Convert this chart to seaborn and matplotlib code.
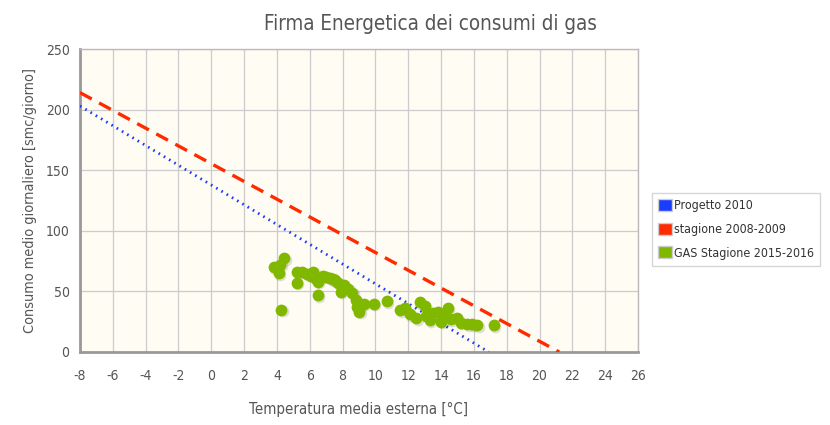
import matplotlib
matplotlib.use("Agg")
import matplotlib.pyplot as plt
import matplotlib.transforms as mtransforms
from matplotlib.patches import Patch
import seaborn as sns
import pandas as pd
import numpy as np

title = "Firma Energetica dei consumi di gas"
xlabel = "Temperatura media esterna [°C]"
ylabel = "Consumo medio giornaliero [smc/giorno]"

# Lines (endpoints)
progetto_x = [-8, 16.9]
progetto_y = [203, 0]
stagione_x = [-8, 21.2]
stagione_y = [214, 0]

# GAS Stagione 2015-2016 scatter points
gas_t = [3.8, 4.1, 4.2, 4.45, 4.25, 5.2, 5.2, 5.5, 5.85, 6.2, 6.4, 6.5, 6.5, 6.8, 7.0,
         7.25, 7.55, 7.7, 7.9, 8.1, 8.35, 8.6, 8.8, 8.9, 9.0, 9.3, 9.9, 10.7,
         11.5, 11.8, 12.1, 12.5, 12.7, 13.0, 13.1, 13.3, 13.5, 14.0, 14.1, 14.4,
         14.6, 15.0, 15.2, 15.6, 15.9, 16.2, 17.2, 6.1, 7.4, 13.8]
gas_c = [70, 65, 72, 77.5, 34.7, 66, 57, 66, 64, 66, 60, 58, 47, 63, 62,
         61, 59, 57, 49.5, 55, 52, 48.7, 43, 37, 33, 40, 40, 42,
         34.6, 36, 31, 28, 41, 38, 30, 26, 32, 25, 31, 36,
         27, 28, 24, 23, 23, 22, 22, 63, 60, 33]

legend_labels = ["Progetto 2010", "stagione 2008-2009", "GAS Stagione 2015-2016"]
colors = ["#1a3cff", "#ff2a00", "#80b800"]

sns.set_style("white")
plt.rcParams['font.family'] = ['DejaVu Sans']
plt.rcParams['font.stretch'] = 'condensed'
plt.rcParams['axes.unicode_minus'] = False

fig = plt.figure(figsize=(8.3, 4.25), dpi=100)
ax = fig.add_axes([0.0964, 0.1718, 0.6723, 0.7129])
ax.set_facecolor("#fffcf3")

df_p = pd.DataFrame({"x": progetto_x, "y": progetto_y})
df_s = pd.DataFrame({"x": stagione_x, "y": stagione_y})
df_g = pd.DataFrame({"t": gas_t, "c": gas_c})

sns.lineplot(data=df_p, x="x", y="y", ax=ax, color=colors[0], lw=2,
             linestyle=(0, (0.6, 1.6)), zorder=3)
sns.lineplot(data=df_s, x="x", y="y", ax=ax, color=colors[1], lw=2.4,
             linestyle=(0, (4, 2.5)), zorder=3)

shadow = mtransforms.offset_copy(ax.transData, fig=fig, x=1.5, y=-1.5, units='dots')
ax.scatter(gas_t, gas_c, s=72, color="#000000", alpha=0.12, transform=shadow,
           linewidths=0, zorder=3)
sns.scatterplot(data=df_g, x="t", y="c", ax=ax, color=colors[2], s=72,
                linewidth=0, zorder=4)

ax.set_xlim(-8, 26)
ax.set_ylim(0, 250)
ax.set_xticks(np.arange(-8, 27, 2))
ax.set_yticks(np.arange(0, 251, 50))
ax.grid(True, color="#cccccc", lw=0.9)
ax.set_axisbelow(True)
for s in ["left", "bottom"]:
    ax.spines[s].set_color("#999999")
    ax.spines[s].set_linewidth(2)
for s in ["top", "right"]:
    ax.spines[s].set_color("#bbbbbb")
    ax.spines[s].set_linewidth(1)
ax.tick_params(axis='both', colors="#999999", labelcolor="#555555", labelsize=10,
               length=4, width=1, direction='out')
ax.tick_params(axis='x', pad=8)

ax.set_xlabel(xlabel, fontsize=10.8, color="#555555", labelpad=14)
ax.set_ylabel(ylabel, fontsize=10.4, color="#555555", labelpad=6)
fig.text(0.518, 0.944, title, ha='center', va='center', fontsize=14.8, color="#555555")

handles = [Patch(facecolor=c, edgecolor="#cccccc", lw=1) for c in colors]
leg = fig.legend(handles, legend_labels, loc='upper left', bbox_to_anchor=(0.7855, 0.546),
                 frameon=True, fontsize=8.9, handlelength=1.1, handleheight=1.1,
                 handletextpad=0.15, borderpad=0.5, labelspacing=0.85, fancybox=False,
                 borderaxespad=0)
leg.get_frame().set_edgecolor("#cccccc")
for t in leg.get_texts():
    t.set_color("#333333")

fig.savefig("out.png", dpi=100, facecolor="white")
